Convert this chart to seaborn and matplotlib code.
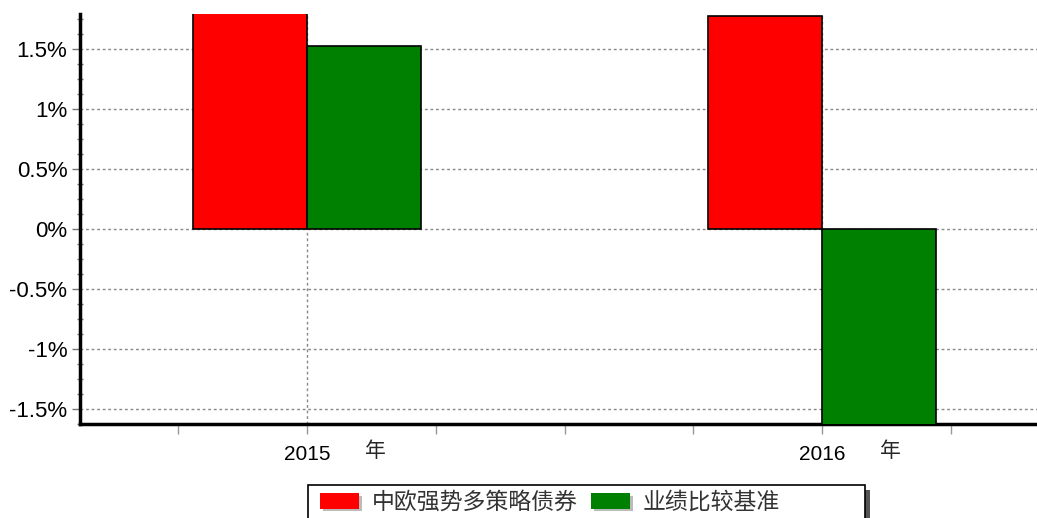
import matplotlib
matplotlib.use('Agg')
import matplotlib.pyplot as plt
import matplotlib.ticker as mticker
import matplotlib.transforms as mtransforms
import matplotlib.patches as mpatches
import matplotlib.patheffects as pe
import seaborn as sns
import pandas as pd

# --- Datos ---
anios = [2015, 2016]
series = ['中欧强势多策略债券', '业绩比较基准']
valores_fondo = [1.95, 1.77]
valores_base = [1.52, -1.75]
colores = ['#ff0000', '#008000']

df = pd.DataFrame({
    'anio': anios * 2,
    'serie': [series[0]] * 2 + [series[1]] * 2,
    'valor': valores_fondo + valores_base,
})

sns.set_theme(style='white')
plt.rcParams['font.family'] = ['Liberation Sans', 'Noto Sans CJK SC', 'DejaVu Sans']

W, H = 1037, 518
fig = plt.figure(figsize=(W / 100, H / 100), dpi=100)
ax = fig.add_axes([80 / W, 1 - 424 / H, 1 - 80 / W, (424 - 14) / H])

sns.barplot(data=df, x='anio', y='valor', hue='serie', hue_order=series,
            palette=colores, native_scale=True, width=0.442,
            edgecolor='black', linewidth=1.2, saturation=1, ax=ax, legend=False,
            zorder=3)

ax.set_xlim(2014.559, 2016.417)
ax.set_ylim(-1.625, 1.79)

ax.xaxis.set_major_locator(mticker.FixedLocator(anios))
ax.xaxis.set_minor_locator(mticker.MultipleLocator(0.25))
ax.xaxis.set_major_formatter(mticker.FuncFormatter(lambda v, p: f'{int(round(v))}'))
ax.yaxis.set_major_locator(mticker.MultipleLocator(0.5))
ax.yaxis.set_minor_locator(mticker.MultipleLocator(0.125))
ax.yaxis.set_major_formatter(mticker.FuncFormatter(lambda v, p: f'{v:g}%'))

ax.set_xlabel('')
ax.set_ylabel('')
ax.grid(True, which='major', axis='both', color='#888888', linestyle=(0, (2, 2)), linewidth=1)
ax.set_axisbelow(True)

for lado in ['top', 'right']:
    ax.spines[lado].set_visible(False)
for lado in ['left', 'bottom']:
    ax.spines[lado].set_color('black')
    ax.spines[lado].set_linewidth(2.5)

ax.tick_params(axis='y', which='major', direction='out', length=6, width=1, color='#777777',
               labelsize=16, labelcolor='black', pad=3, left=True)
ax.tick_params(axis='y', which='minor', direction='inout', length=5, width=1, color='#777777', left=True)
ax.tick_params(axis='x', which='major', direction='out', length=7, width=1, color='#999999',
               labelsize=15, labelcolor='black', pad=8, bottom=True)
ax.tick_params(axis='x', which='minor', direction='out', length=7, width=1, color='#999999', bottom=True)

trans = mtransforms.blended_transform_factory(ax.transData, ax.transAxes)
for a in anios:
    ax.text(a + 0.132, -0.066, '年', transform=trans, ha='center', va='center',
            fontsize=15, family=['Noto Sans CJK SC', 'DejaVu Sans'])

# --- Leyenda con marco y sombra dibujados a mano ---
sombra = mpatches.Rectangle((313 / W, -0.1), (865 - 308) / W, (H - 490) / H + 0.1,
                            transform=fig.transFigure, facecolor='#555555', edgecolor='none', zorder=1)
marco = mpatches.Rectangle((308 / W, -0.1), (865 - 308) / W, (H - 485) / H + 0.1,
                           transform=fig.transFigure, facecolor='white', edgecolor='black',
                           linewidth=1.2, zorder=2)
fig.patches.extend([sombra, marco])

efecto = [pe.withSimplePatchShadow(offset=(2, -2), shadow_rgbFace='#bbbbbb', alpha=1)]
handles = [mpatches.Patch(facecolor=c, edgecolor='none', path_effects=efecto) for c in colores]
leg = fig.legend(handles, series, loc='upper left', bbox_to_anchor=(320 / W, 1 - 491 / H),
                 ncol=2, frameon=False,
                 prop={'family': ['Noto Sans CJK SC', 'DejaVu Sans'], 'size': 16.5},
                 handlelength=1.7, handleheight=0.65, handletextpad=0.55, columnspacing=0.6,
                 borderpad=0, borderaxespad=0)
leg.set_zorder(3)
for t in leg.get_texts():
    t.set_color('#333333')

fig.savefig('out.png', dpi=100)
